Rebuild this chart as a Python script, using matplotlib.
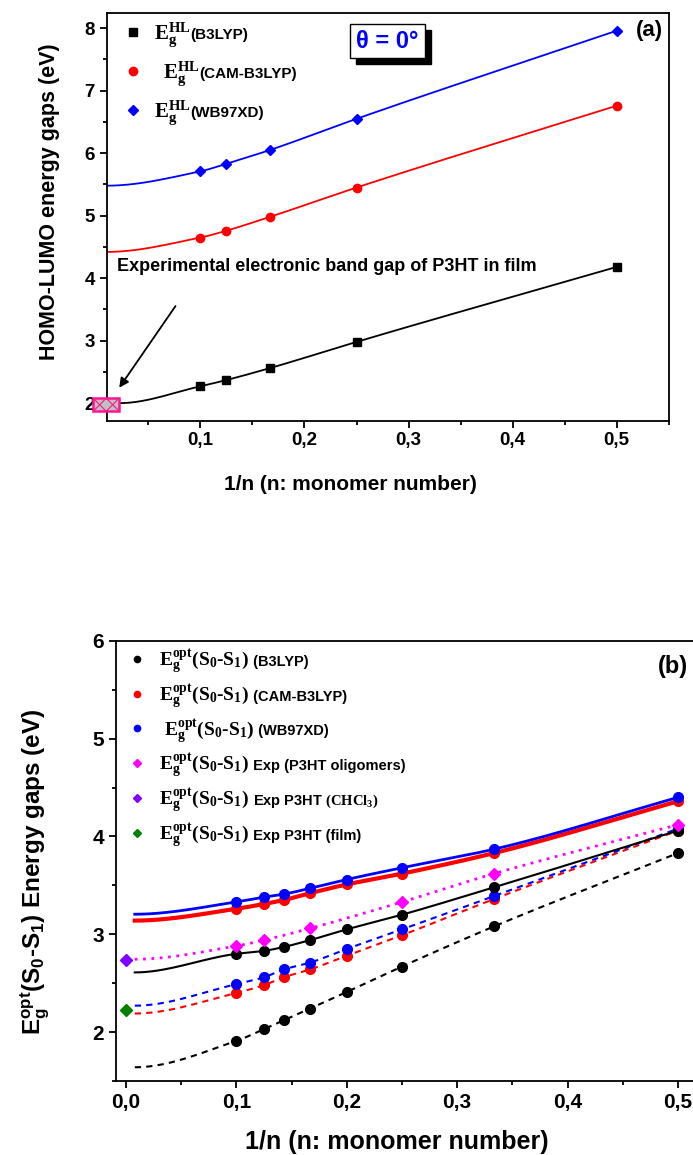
import matplotlib
matplotlib.use('Agg')
import matplotlib.pyplot as plt
import matplotlib.patches as patches
from matplotlib.ticker import MultipleLocator, FuncFormatter
import numpy as np

plt.rcParams['font.family'] = ['Liberation Sans', 'DejaVu Sans']
plt.rcParams['font.weight'] = 'bold'
plt.rcParams['mathtext.fontset'] = 'custom'
plt.rcParams['mathtext.rm'] = 'Liberation Serif'
plt.rcParams['mathtext.it'] = 'Liberation Serif:italic'
plt.rcParams['mathtext.bf'] = 'Liberation Serif:bold'
plt.rcParams['mathtext.sf'] = 'Liberation Sans:bold'

# ---- panel (a): HOMO-LUMO gaps vs 1/n
x_a = [0.1, 0.125, 1 / 6, 0.25, 0.5]
hl_b3lyp = [2.27, 2.37, 2.56, 2.98, 4.18]
hl_cam = [4.65, 4.76, 4.98, 5.45, 6.76]
hl_wb97 = [5.71, 5.83, 6.05, 6.55, 7.96]
# left end of the smoothed curves
start_x_a = [0.022, 0.01, 0.01]
start_y_a = [2.0, 4.42, 5.48]
exp_film_x = 0.0095
exp_film_gap = 1.975

# ---- panel (b): optical gaps vs 1/n
x_b = [0.1, 0.125, 1 / 7, 1 / 6, 0.2, 0.25, 1 / 3, 0.5]
opt_b3lyp = [2.80, 2.83, 2.87, 2.94, 3.05, 3.20, 3.48, 4.06]
opt_b3lyp_2 = [1.91, 2.03, 2.12, 2.24, 2.41, 2.67, 3.08, 3.83]
opt_cam = [3.26, 3.31, 3.35, 3.42, 3.51, 3.62, 3.83, 4.36]
opt_cam_2 = [2.40, 2.48, 2.56, 2.64, 2.78, 2.99, 3.36, 4.06]
opt_wb97 = [3.33, 3.38, 3.41, 3.47, 3.56, 3.68, 3.87, 4.40]
opt_wb97_2 = [2.49, 2.56, 2.64, 2.71, 2.85, 3.05, 3.39, 4.08]
x_oligo = [0.1, 0.125, 1 / 6, 0.25, 1 / 3, 0.5]
exp_oligo = [2.88, 2.94, 3.06, 3.33, 3.62, 4.12]
x_exp0 = [0.0]
exp_chcl3 = [2.74]
exp_film = [2.23]
start_x_b = 0.008
start_y_b = {'b3lyp': 2.61, 'b3lyp_2': 1.64, 'cam': 3.14, 'cam_2': 2.19,
             'wb97': 3.205, 'wb97_2': 2.27, 'oligo': 2.745}


def smooth_line(x0, y0, x, y):
    # monotone cubic (Fritsch-Carlson) through the points, flat at the left end
    xx = np.r_[x0, x].astype(float)
    yy = np.r_[y0, y].astype(float)
    h = np.diff(xx)
    dl = np.diff(yy) / h
    d = np.zeros(len(xx))
    for k in range(1, len(xx) - 1):
        if dl[k - 1] * dl[k] > 0:
            w1 = 2 * h[k] + h[k - 1]
            w2 = h[k] + 2 * h[k - 1]
            d[k] = (w1 + w2) / (w1 / dl[k - 1] + w2 / dl[k])
    d[-1] = dl[-1]
    xs_all, ys_all = [], []
    for k in range(len(h)):
        t = np.linspace(0, 1, 60)
        h00 = 2 * t**3 - 3 * t**2 + 1
        h10 = t**3 - 2 * t**2 + t
        h01 = -2 * t**3 + 3 * t**2
        h11 = t**3 - t**2
        xs_all.append(xx[k] + t * h[k])
        ys_all.append(h00 * yy[k] + h10 * h[k] * d[k] + h01 * yy[k + 1] + h11 * h[k] * d[k + 1])
    return np.concatenate(xs_all), np.concatenate(ys_all)


def legend_entry(ax, x, y, head, tail, hsize, tsize):
    t1 = ax.text(x, y, head, transform=ax.transAxes, fontsize=hsize, va='baseline', ha='left')
    ax.annotate(tail, xy=(1, y), xycoords=(t1, 'axes fraction'), fontsize=tsize,
                fontweight='bold', va='baseline', ha='left')


comma = FuncFormatter(lambda v, pos: f'{v:.1f}'.replace('.', ','))

fig = plt.figure(figsize=(6.93, 11.55), dpi=100)

# ================= panel (a) =================
ax = fig.add_axes([0.154, 0.6358, 0.811, 0.3533])
series_a = [(hl_b3lyp, 'black', 's', 5.5), (hl_cam, 'red', 'o', 6), (hl_wb97, 'blue', 'D', 5.5)]
for k, (y, c, m, ms) in enumerate(series_a):
    xs, ys = smooth_line(start_x_a[k], start_y_a[k], x_a, y)
    ax.plot(xs, ys, color=c, lw=1.3)
    ax.plot(x_a, y, ls='none', marker=m, ms=ms, color=c)

# experimental film gap: grey box with two pink crosses
bw_d, bh_d = 0.025, 0.21
bl = exp_film_x - bw_d / 2
bb = exp_film_gap - bh_d / 2
ax.add_patch(patches.Rectangle((bl, bb), bw_d, bh_d, facecolor='#c0c0c0',
                               edgecolor='#ff1493', lw=1.8, clip_on=False, zorder=5))
for i in range(2):
    x0 = bl + i * bw_d / 2
    ax.plot([x0, x0 + bw_d / 2], [bb, bb + bh_d], color='#ff1493', lw=0.8,
            clip_on=False, zorder=6)
    ax.plot([x0, x0 + bw_d / 2], [bb + bh_d, bb], color='#ff1493', lw=0.8,
            clip_on=False, zorder=6)

ax.annotate('', xy=(0.0205, 2.21), xytext=(0.0776, 3.59),
            arrowprops=dict(arrowstyle='-|>', color='black', lw=1.3, mutation_scale=14))
ax.text(0.02, 4.19, 'Experimental electronic band gap of P3HT in film',
        fontsize=13, fontweight='bold', va='center', ha='left')

labels_a = ['(B3LYP)', '(CAM-B3LYP)', '(WB97XD)']
rows_a = [0.953, 0.857, 0.762]
text_x_a = [0.084, 0.1, 0.084]
for (y, c, m, ms), lab, ry, tx in zip(series_a, labels_a, rows_a, text_x_a):
    ax.plot([0.047], [ry], marker=m, ms=ms, color=c, ls='none', transform=ax.transAxes)
    legend_entry(ax, tx, ry - 0.017, r'$\mathrm{E_g^{HL}}$', lab, 15, 11)

# theta box with drop shadow
bx0, by0, bw, bh = 0.433, 0.888, 0.133, 0.0836
ax.add_patch(patches.Rectangle((bx0 + 0.0107, by0 - 0.0147), bw, bh, transform=ax.transAxes,
                               facecolor='black', edgecolor='black', zorder=6))
ax.add_patch(patches.Rectangle((bx0, by0), bw, bh, transform=ax.transAxes,
                               facecolor='white', edgecolor='black', lw=1.0, zorder=7))
ax.text(bx0 + bw / 2, by0 + bh / 2, '\u03b8 = 0\u00b0', transform=ax.transAxes, color='blue',
        fontsize=17, fontweight='bold', ha='center', va='center', zorder=8)
ax.text(0.966, 0.955, '(a)', transform=ax.transAxes, fontsize=16, fontweight='bold',
        ha='center', va='center')

ax.set_xlim(0.01, 0.55)
ax.set_ylim(1.72, 8.25)
ax.xaxis.set_major_locator(MultipleLocator(0.1))
ax.xaxis.set_minor_locator(MultipleLocator(0.05))
ax.yaxis.set_major_locator(MultipleLocator(1))
ax.yaxis.set_minor_locator(MultipleLocator(0.5))
ax.xaxis.set_major_formatter(comma)
ax.tick_params(which='both', direction='out', width=1.3, labelsize=13.5)
ax.tick_params(which='major', length=5)
ax.tick_params(which='minor', length=3)
for s in ax.spines.values():
    s.set_linewidth(1.3)
ax.set_xlabel('1/n (n: monomer number)', fontsize=15, fontweight='bold')
ax.set_ylabel('HOMO-LUMO energy gaps (eV)', fontsize=15.5, fontweight='bold')
ax.xaxis.set_label_coords(0.433, -0.133)
ax.yaxis.set_label_coords(-0.083, 0.537)

# ================= panel (b) =================
bx = fig.add_axes([0.1674, 0.0641, 0.8586, 0.381])
dash = (0, (3, 2.5))
lines_b = [
    (opt_b3lyp_2, 'b3lyp_2', 'black', dash, 1.5),
    (opt_cam_2, 'cam_2', 'red', dash, 1.5),
    (opt_wb97_2, 'wb97_2', 'blue', dash, 1.5),
    (opt_b3lyp, 'b3lyp', 'black', '-', 1.5),
    (opt_cam, 'cam', 'red', '-', 3.0),
    (opt_wb97, 'wb97', 'blue', '-', 2.0),
]
for y, key, c, ls, lw in lines_b:
    xs, ys = smooth_line(start_x_b, start_y_b[key], x_b, y)
    bx.plot(xs, ys, color=c, ls=ls, lw=lw)
xs, ys = smooth_line(start_x_b, start_y_b['oligo'], x_oligo, exp_oligo)
bx.plot(xs, ys, color='#ff00ff', ls=(0, (1, 2)), lw=2)

for y, key, c, ls, lw in lines_b:
    bx.plot(x_b, y, ls='none', marker='o', ms=7, color=c)
bx.plot(x_oligo, exp_oligo, ls='none', marker='D', ms=6.5, color='#ff00ff')
bx.plot(x_exp0, exp_chcl3, ls='none', marker='D', ms=6.5, color='#8000ff', clip_on=False)
bx.plot(x_exp0, exp_film, ls='none', marker='D', ms=6.5, color='#008000', clip_on=False)

head_b = r'$\mathbf{E_g^{opt}}\mathrm{(S_0}$-$\mathrm{S_1)}$'
tails_b = [' (B3LYP)', ' (CAM-B3LYP)', ' (WB97XD)', ' Exp (P3HT oligomers)',
           r' Exp P3HT $\mathrm{(CHCl_3)}$', ' Exp P3HT (film)']
heads_b = [head_b, head_b, ' ' + head_b, head_b, head_b, head_b]
leg_style_b = [('black', 'o'), ('red', 'o'), ('blue', 'o'),
               ('#ff00ff', 'D'), ('#8000ff', 'D'), ('#008000', 'D')]
for k, (hd, tl, (c, m)) in enumerate(zip(heads_b, tails_b, leg_style_b)):
    ry = 0.959 - k * 0.0789
    bx.plot([0.0353], [ry], marker=m, ms=4.5, color=c, ls='none', transform=bx.transAxes)
    legend_entry(bx, 0.0723, ry - 0.016, hd, tl, 14, 10.5)
bx.text(0.936, 0.942, '(b)', transform=bx.transAxes, fontsize=17, fontweight='bold',
        ha='center', va='center')

bx.set_xlim(-0.009, 0.53)
bx.set_ylim(1.5, 6.0)
bx.xaxis.set_major_locator(MultipleLocator(0.1))
bx.xaxis.set_minor_locator(MultipleLocator(0.05))
bx.yaxis.set_major_locator(MultipleLocator(1))
bx.yaxis.set_minor_locator(MultipleLocator(0.5))
bx.xaxis.set_major_formatter(comma)
bx.tick_params(which='both', direction='out', width=1.3, labelsize=15)
bx.tick_params(which='major', length=5)
bx.tick_params(which='minor', length=3)
for s in bx.spines.values():
    s.set_linewidth(1.3)
bx.set_xlabel('1/n (n: monomer number)', fontsize=18, fontweight='bold')
bx.set_ylabel(r'$\mathsf{E_g^{opt}(S_0}$-$\mathsf{S_1)}$ Energy gaps (eV)', fontsize=17.5,
              fontweight='bold')
bx.xaxis.set_label_coords(0.472, -0.111)
bx.yaxis.set_label_coords(-0.107, 0.475)

fig.savefig('out.png', dpi=100)
